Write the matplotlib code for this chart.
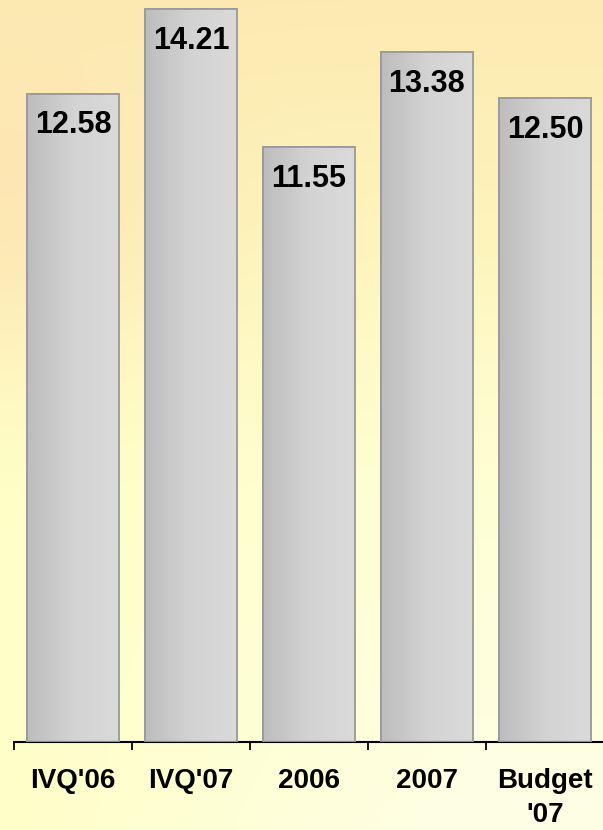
import numpy as np
import matplotlib
matplotlib.use("Agg")
import matplotlib.pyplot as plt
from matplotlib.colors import LinearSegmentedColormap

# chart data
categories = ["IVQ'06", "IVQ'07", "2006", "2007", "Budget\n'07"]
values = [12.58, 14.21, 11.55, 13.38, 12.50]

plt.rcParams['font.family'] = ['Liberation Sans', 'DejaVu Sans']

fig = plt.figure(figsize=(6.03, 8.30), dpi=100)

# warm background: peach/yellow at the top, pale yellow lower down
bg = fig.add_axes([0, 0, 1, 1], zorder=0)
h, w = 200, 150
yy, xx = np.mgrid[0:1:h * 1j, 0:1:w * 1j]
top = np.array([252, 234, 178]) / 255
bottom = np.array([255, 255, 200]) / 255
t = np.clip(yy / 0.6, 0, 1)[..., None]
img = top * (1 - t) + bottom * t
# peach tint near the upper left
peach = np.array([254, 226, 176]) / 255
wgt = (np.exp(-(xx / 0.3) ** 2) * np.exp(-((yy - 0.22) / 0.2) ** 2))[..., None] * 0.7
img = img * (1 - wgt) + peach * wgt
# lighter towards the bottom right
light = np.array([255, 255, 235]) / 255
wl = (np.clip(yy - 0.3, 0, 1) / 0.7 * np.clip(xx * 1.3, 0, 1))[..., None] * 0.85
img = img * (1 - wl) + light * wl
bg.imshow(img, aspect='auto', extent=[0, 1, 0, 1], origin='upper', interpolation='bicubic')
bg.axis('off')

# plot area: axis line at y=742 px, left edge at 14 px
ax = fig.add_axes([14 / 603, 1 - 742 / 830, 590 / 603, 742 / 830], zorder=1)
ax.patch.set_alpha(0)

x = np.arange(len(categories))
bars = ax.bar(x, values, width=0.78, color='#cfcfcf', edgecolor='#9a9a9a', linewidth=1.3, zorder=2)

grad = LinearSegmentedColormap.from_list('bar', ['#bdbdbd', '#d3d3d3', '#dadada'])
gimg = np.linspace(0, 1, 64).reshape(1, -1)
for b in bars:
    x0, y0 = b.get_x(), b.get_y()
    im = ax.imshow(gimg, cmap=grad, aspect='auto', zorder=2.5,
                   extent=[x0, x0 + b.get_width(), y0, y0 + b.get_height()])
    im.set_clip_path(b)
    # redraw the border on top of the gradient
    ax.add_patch(plt.Rectangle((x0, y0), b.get_width(), b.get_height(), fill=False,
                               edgecolor='#9a9a9a', linewidth=1.3, zorder=3))

for xi, v in zip(x, values):
    ax.text(xi, v - 0.62, f"{v:.2f}", ha='center', va='center', fontsize=22,
            fontweight='bold', color='black', zorder=4)

ax.set_xlim(-0.5, len(categories) - 0.5)
ax.set_ylim(0, 742 / 51.55)

ax.set_xticks(x)
ax.set_xticklabels(categories, fontsize=20, fontweight='bold', linespacing=1.4)
ax.set_xticks(np.arange(len(categories)) - 0.5, minor=True)
ax.tick_params(axis='x', which='major', length=0, pad=19)
ax.tick_params(axis='x', which='minor', length=6, width=1.3, direction='out', color='black')
ax.set_yticks([])
for s in ['top', 'right', 'left']:
    ax.spines[s].set_visible(False)
ax.spines['bottom'].set_linewidth(1.5)
ax.spines['bottom'].set_color('black')

fig.savefig("out.png", dpi=100)
